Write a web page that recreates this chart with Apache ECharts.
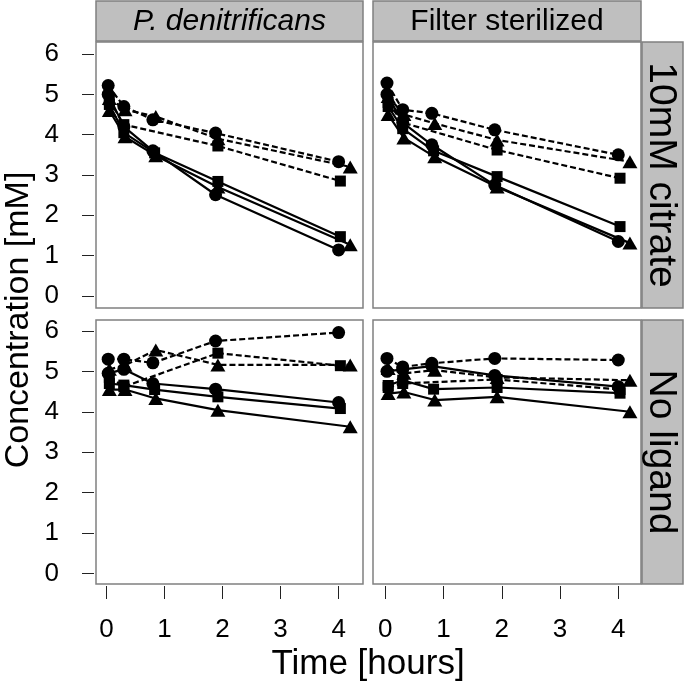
<!DOCTYPE html>
<html>
<head>
<meta charset="utf-8">
<script src="https://cdn.jsdelivr.net/npm/echarts@6/dist/echarts.min.js"></script>
<style>html,body{margin:0;padding:0;background:#fff}#c{width:686px;height:686px}</style>
</head>
<body>
<div id="c"></div>
<script>
// ---- data ----
var colLabels = ['P. denitrificans', 'Filter sterilized'];
var rowLabels = ['10mM citrate', 'No ligand'];
var xTickMin = 0, xTickMax = 4, xTickStep = 1;
var yTickMin = 0, yTickMax = 6, yTickStep = 1;
var xTitle = 'Time [hours]';
var yTitle = 'Concentration [mM]';

var tCircle = [0.03, 0.3, 0.8, 1.88, 4.0];
var tSquare = [0.05, 0.3, 0.83, 1.92, 4.03];
var tTriangle = [0.05, 0.32, 0.85, 1.92, 4.2];

// panel: P. denitrificans, 10mM citrate
var pdCit_solidCircle = [5.0, 4.2, 3.6, 2.51, 1.14];
var pdCit_solidSquare = [4.75, 4.05, 3.55, 2.84, 1.47];
var pdCit_solidTriangle = [4.6, 3.95, 3.48, 2.7, 1.27];
var pdCit_dashCircle = [5.22, 4.7, 4.37, 4.04, 3.33];
var pdCit_dashSquare = [4.85, 4.25, null, 3.72, 2.85];
var pdCit_dashTriangle = [4.9, 4.62, 4.45, 3.9, 3.2];

// panel: Filter sterilized, 10mM citrate
var fsCit_solidCircle = [5.0, 4.3, 3.75, 2.75, 1.35];
var fsCit_solidSquare = [4.7, 4.15, 3.6, 2.96, 1.72];
var fsCit_solidTriangle = [4.5, 3.92, 3.45, 2.7, 1.31];
var fsCit_dashCircle = [5.28, 4.62, 4.53, 4.12, 3.5];
var fsCit_dashSquare = [4.8, 4.3, null, 3.62, 2.92];
var fsCit_dashTriangle = [4.95, 4.5, 4.28, 3.87, 3.33];

// panel: P. denitrificans, No ligand
var pdNo_solidCircle = [4.95, 5.05, 4.7, 4.56, 4.23];
var pdNo_solidSquare = [4.7, 4.66, 4.55, 4.37, 4.08];
var pdNo_solidTriangle = [4.55, 4.55, 4.33, 4.04, 3.63];
var pdNo_dashCircle = [5.3, 5.3, 5.21, 5.75, 5.96];
var pdNo_dashSquare = [4.85, 4.62, null, 5.45, 5.14];
var pdNo_dashTriangle = [5.05, 5.15, 5.53, 5.16, 5.16];

// panel: Filter sterilized, No ligand
var fsNo_solidCircle = [5.0, 5.05, 5.13, 4.9, 4.62];
var fsNo_solidSquare = [4.65, 4.78, 4.56, 4.6, 4.46];
var fsNo_solidTriangle = [4.45, 4.49, 4.29, 4.37, 4.0];
var fsNo_dashCircle = [5.32, 5.11, 5.2, 5.32, 5.28];
var fsNo_dashSquare = [4.6, 4.7, null, 4.8, 4.55];
var fsNo_dashTriangle = [5.07, 4.95, 5.03, 4.85, 4.78];

var panels = [
  [pdCit_solidCircle, pdCit_solidSquare, pdCit_solidTriangle, pdCit_dashCircle, pdCit_dashSquare, pdCit_dashTriangle],
  [fsCit_solidCircle, fsCit_solidSquare, fsCit_solidTriangle, fsCit_dashCircle, fsCit_dashSquare, fsCit_dashTriangle],
  [pdNo_solidCircle, pdNo_solidSquare, pdNo_solidTriangle, pdNo_dashCircle, pdNo_dashSquare, pdNo_dashTriangle],
  [fsNo_solidCircle, fsNo_solidSquare, fsNo_solidTriangle, fsNo_dashCircle, fsNo_dashSquare, fsNo_dashTriangle]
];

// ---- layout ----
var FONT = 'Liberation Sans, Arial, Helvetica, sans-serif';
var colX = [96, 373], colW = [267, 268];
var rowY = [42, 320], rowH = [266, 264];
var xRange = [[-0.18, 4.42], [-0.21, 4.39]];
var yRange = [[-0.3, 6.3], [-0.26, 6.27]];
var shapes = ['circle', 'rect', 'triangle'];
var sizes = [13, 11, [15, 13]];
var times = [tCircle, tSquare, tTriangle];

var grids = [], xAxes = [], yAxes = [], series = [];
for (var r = 0; r < 2; r++) {
  for (var c = 0; c < 2; c++) {
    var idx = r * 2 + c;
    grids.push({left: colX[c], top: rowY[r], width: colW[c], height: rowH[r], show: true,
      borderColor: '#808080', borderWidth: 1.5, backgroundColor: '#fff'});
    xAxes.push({type: 'value', gridIndex: idx, min: xRange[c][0], max: xRange[c][1], show: false});
    yAxes.push({type: 'value', gridIndex: idx, min: yRange[r][0], max: yRange[r][1], show: false});
    for (var s = 0; s < 6; s++) {
      var k = s % 3, dashed = s >= 3;
      var vals = panels[idx][s];
      var data = [];
      for (var i = 0; i < vals.length; i++) if (vals[i] != null) data.push([times[k][i], vals[i]]);
      series.push({type: 'line', xAxisIndex: idx, yAxisIndex: idx, data: data,
        symbol: shapes[k], symbolSize: sizes[k], showAllSymbol: true, animation: false,
        lineStyle: {color: '#000', width: 2.2, type: dashed ? [6, 3] : 'solid'},
        itemStyle: {color: '#000', borderWidth: 0}, z: dashed ? 3 : 2});
    }
  }
}
// tick-scale grids: same pixel scale as the panels, spanning exactly the tick range
for (var r3 = 0; r3 < 2; r3++) {
  for (var c3 = 0; c3 < 2; c3++) {
    var xr = xRange[c3], yr = yRange[r3];
    var pxX = colW[c3] / (xr[1] - xr[0]), pxY = rowH[r3] / (yr[1] - yr[0]);
    var gl = colX[c3] + (xTickMin - xr[0]) * pxX;
    var gw = (xTickMax - xTickMin) * pxX;
    var gt = rowY[r3] + (yr[1] - yTickMax) * pxY;
    var gh = (yTickMax - yTickMin) * pxY;
    var gi = grids.length;
    grids.push({left: gl, top: gt, width: gw, height: gh, show: false});
    var bottomRow = r3 === 1, leftCol = c3 === 0;
    xAxes.push({type: 'value', gridIndex: gi, min: xTickMin, max: xTickMax, interval: xTickStep,
      show: bottomRow, offset: (rowY[r3] + rowH[r3]) - (gt + gh) + 2,
      axisLine: {show: false, onZero: false}, splitLine: {show: false},
      axisTick: {show: true, length: 13, lineStyle: {color: '#222', width: 1}},
      axisLabel: {show: true, fontSize: 26, color: '#000', fontFamily: FONT, margin: 31}});
    yAxes.push({type: 'value', gridIndex: gi, min: yTickMin, max: yTickMax, interval: yTickStep,
      show: leftCol, offset: gl - colX[c3] + 2,
      axisLine: {show: false, onZero: false}, splitLine: {show: false},
      axisTick: {show: true, length: 12, lineStyle: {color: '#222', width: 1}},
      axisLabel: {show: true, fontSize: 26, color: '#000', fontFamily: FONT, margin: 35}});
  }
}

var graphics = [];
for (var c2 = 0; c2 < 2; c2++) {
  graphics.push({type: 'rect', shape: {x: colX[c2], y: 1, width: colW[c2], height: 40},
    style: {fill: '#bfbfbf', stroke: '#808080', lineWidth: 1.5}});
  graphics.push({type: 'text', x: colX[c2] + colW[c2] / 2, y: 22,
    style: {text: colLabels[c2], font: (c2 === 0 ? 'italic ' : '') + '30px ' + FONT, fill: '#000',
      textAlign: 'center', textVerticalAlign: 'middle'}});
}
for (var r2 = 0; r2 < 2; r2++) {
  graphics.push({type: 'rect', shape: {x: 642, y: rowY[r2], width: 41, height: rowH[r2]},
    style: {fill: '#bfbfbf', stroke: '#808080', lineWidth: 1.5}});
  graphics.push({type: 'text', x: 661, y: rowY[r2] + rowH[r2] / 2, rotation: -Math.PI / 2,
    style: {text: rowLabels[r2], font: '39px ' + FONT, fill: '#000',
      textAlign: 'center', textVerticalAlign: 'middle'}});
}
graphics.push({type: 'text', x: 368, y: 664,
  style: {text: xTitle, font: '35px ' + FONT, fill: '#000', textAlign: 'center', textVerticalAlign: 'middle'}});
graphics.push({type: 'text', x: 19, y: 320, rotation: Math.PI / 2,
  style: {text: yTitle, font: '34px ' + FONT, fill: '#000', textAlign: 'center', textVerticalAlign: 'middle'}});

var chart = echarts.init(document.getElementById('c'), null, {renderer: 'canvas'});
chart.setOption({animation: false, backgroundColor: '#fff', grid: grids, xAxis: xAxes, yAxis: yAxes,
  series: series, graphic: graphics});
</script>
</body>
</html>
